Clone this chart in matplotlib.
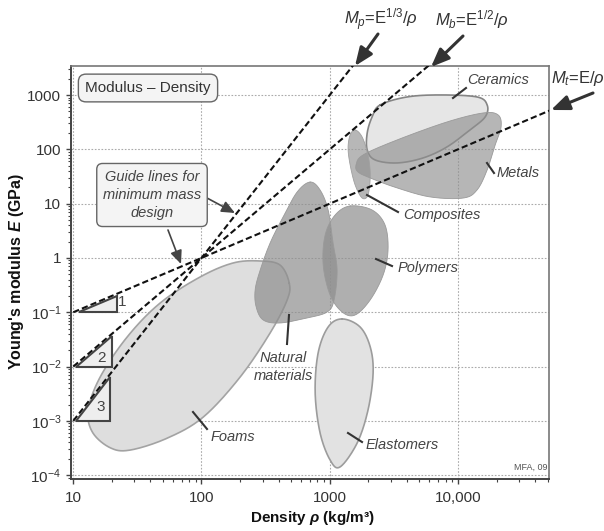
import numpy as np
import matplotlib
matplotlib.use("Agg")
import matplotlib.pyplot as plt
from matplotlib.lines import Line2D
from matplotlib.patches import Polygon
from matplotlib.ticker import LogLocator, FixedLocator, FixedFormatter, NullFormatter

plt.rcParams['font.family'] = ['Liberation Sans', 'DejaVu Sans']
plt.rcParams['mathtext.fontset'] = 'custom'
plt.rcParams['mathtext.rm'] = 'Liberation Sans'
plt.rcParams['mathtext.it'] = 'Liberation Sans:italic'
plt.rcParams['mathtext.bf'] = 'Liberation Sans:bold:italic'

# ---------------- data ----------------
x_ticks = [10, 100, 1000, 10000]
x_ticklabels = ["10", "100", "1000", "10,000"]
y_ticks = [1e-4, 1e-3, 1e-2, 1e-1, 1, 10, 100, 1000]
y_ticklabels = [r"$10^{-4}$", r"$10^{-3}$", r"$10^{-2}$", r"$10^{-1}$", "1", "10", "100", "1000"]

# guide lines E = E_ref * (rho/rho_ref)^n, through (100 kg/m3, 1 GPa)
guide_names = ["M_t", "M_b", "M_p"]
guide_slopes = [1, 2, 3]
guide_rho_ref = 100.0
guide_E_ref = 1.0
guide_rho_start = 10.0

# slope triangles: start rho, end rho, base E, slope, label
tri_rho0 = [11.0, 10.5, 10.5]
tri_rho1 = [22.0, 20.0, 19.5]
tri_E0 = [0.1, 0.01, 0.001]
tri_slope = [1, 2, 3]
tri_label = ["1", "2", "3"]

# material family envelopes (boundary points, rho in kg/m3, E in GPa)
foams_rho = [483, 466, 343, 200, 103, 54, 27.8, 19.4, 14.1, 13.1, 16.2, 26.3, 47.6, 97.6, 177, 287, 410]
foams_E = [0.347, 0.169, 0.0416, 0.0064, 0.00117, 4.8e-4, 2.9e-4, 3.2e-4, 6.2e-4, 1.6e-3, 6.4e-3, 0.035, 0.148, 0.447, 0.81, 0.88, 0.74]

natural_rho = [703, 841, 972, 1062, 1142, 1082, 954, 667, 410, 303, 267, 262, 287, 343, 433, 557]
natural_E = [25, 17.9, 7.65, 1.89, 0.60, 0.169, 0.101, 0.0785, 0.0635, 0.072, 0.125, 0.257, 0.60, 1.89, 5.7, 16.4]

polymers_rho = [1443, 2140, 2700, 2850, 2610, 2070, 1578, 1250, 1007, 889, 921, 1102]
polymers_E = [9.07, 7.65, 4.05, 1.40, 0.486, 0.169, 0.089, 0.101, 0.208, 0.743, 2.65, 6.19]

elastomers_rho = [1250, 1725, 2070, 2180, 1990, 1636, 1205, 1007, 841, 770, 812, 972]
elastomers_E = [0.0753, 0.0536, 0.023, 0.0076, 0.00159, 3.9e-4, 1.42e-4, 1.9e-4, 6.0e-4, 3.3e-3, 0.0178, 0.0536]

ceramics_rho = [2470, 4010, 7260, 14100, 16900, 16300, 12400, 8220, 5350, 3350, 2260, 1960, 1960, 2140]
ceramics_E = [657, 923, 1005, 923, 657, 395, 228, 111, 69.5, 56.2, 63.8, 97.5, 200, 395]

metals_rho = [1607, 1820, 3350, 8220, 15700, 20600, 21700, 19500, 16900, 14100, 11000, 6070, 3350, 2070, 1660]
metals_E = [51.6, 78.9, 149, 320, 468, 430, 259, 120, 41.8, 17.9, 12.7, 13.3, 19.5, 29.7, 38.4]

composites_rho = [1578, 1790, 1990, 2070, 1990, 1790, 1578, 1443, 1390, 1443]
composites_E = [228, 169, 78.9, 33.8, 14.5, 12.7, 22.1, 51.6, 106, 184]

families = ["Foams", "Natural materials", "Polymers", "Elastomers", "Ceramics", "Metals", "Composites"]

# ---------------- figure ----------------
W, H = 604, 531
fig = plt.figure(figsize=(W / 100, H / 100), dpi=100)
ax = fig.add_axes([71 / W, 1 - 479 / H, (549 - 71) / W, (479 - 66) / H])
ax.set_xscale('log')
ax.set_yscale('log')
ax.set_xlim(9.6, 51300)
ax.set_ylim(8.5e-5, 3430)


def P(x, y):
    """pixel position (from top-left) to figure fraction"""
    return (x / W, 1 - y / H)


def smooth_closed(xs, ys, n=24):
    pts = np.column_stack([np.log10(xs), np.log10(ys)])
    N = len(pts)
    t = np.linspace(0, 1, n, endpoint=False)[:, None]
    out = []
    for i in range(N):
        p0, p1, p2, p3 = pts[(i - 1) % N], pts[i], pts[(i + 1) % N], pts[(i + 2) % N]
        seg = 0.5 * ((2 * p1) + (-p0 + p2) * t + (2 * p0 - 5 * p1 + 4 * p2 - p3) * t ** 2
                     + (-p0 + 3 * p1 - 3 * p2 + p3) * t ** 3)
        out.append(seg)
    o = np.vstack(out)
    return 10 ** o[:, 0], 10 ** o[:, 1]


def blob(rho, E, face, edge, alpha=1.0, z=2, lw=1.2):
    x, y = smooth_closed(rho, E)
    ax.fill(x, y, facecolor=face, edgecolor='none', alpha=alpha, zorder=z)
    ax.plot(np.append(x, x[0]), np.append(y, y[0]), color=edge, lw=lw, zorder=z + 0.1)


# grid
ax.grid(True, which='major', ls=(0, (1.5, 1.5)), color='#aaaaaa', lw=0.8)
ax.set_axisbelow(True)

blob(foams_rho, foams_E, '#dedede', '#a3a3a3', 1.0, 2)
blob(elastomers_rho, elastomers_E, '#e2e2e2', '#9c9c9c', 1.0, 2)
blob(natural_rho, natural_E, '#8e8e8e', '#9a9a9a', 0.7, 3, lw=0.6)
blob(polymers_rho, polymers_E, '#8e8e8e', '#9a9a9a', 0.7, 3, lw=0.6)
blob(ceramics_rho, ceramics_E, '#e6e6e6', '#858585', 1.0, 2)
blob(composites_rho, composites_E, '#999999', '#a0a0a0', 0.7, 3, lw=0.6)
blob(metals_rho, metals_E, '#8f8f8f', '#9a9a9a', 0.65, 3, lw=0.6)

# guide lines
rho_line = np.logspace(np.log10(guide_rho_start), 5, 200)
for n in guide_slopes:
    ax.plot(rho_line, guide_E_ref * (rho_line / guide_rho_ref) ** n, color='#111111',
            lw=1.5, ls=(0, (3, 1.5)), zorder=6)

# slope triangles
for r0, r1, e0, n in zip(tri_rho0, tri_rho1, tri_E0, tri_slope):
    e1 = e0 * (r1 / r0) ** n
    tri = Polygon([[r0, e0], [r1, e0], [r1, e1]], closed=True, facecolor='#eeeeee',
                  edgecolor='#444444', lw=1.5, zorder=7)
    ax.add_patch(tri)
tri_text_pos = [(24.1, 0.155), (16.5, 0.0144), (16.3, 0.0018)]
for (tx, ty), lab in zip(tri_text_pos, tri_label):
    ax.text(tx, ty, lab, fontsize=11, color='#444444', ha='center', va='center', zorder=8)

# axes styling
for s in ['left', 'bottom']:
    ax.spines[s].set_color('#444444')
    ax.spines[s].set_linewidth(1.4)
for s in ['top', 'right']:
    ax.spines[s].set_color('#777777')
    ax.spines[s].set_linewidth(1.2)
ax.xaxis.set_major_locator(FixedLocator(x_ticks))
ax.xaxis.set_major_formatter(FixedFormatter(x_ticklabels))
ax.yaxis.set_major_locator(FixedLocator(y_ticks))
ax.yaxis.set_major_formatter(FixedFormatter(y_ticklabels))
ax.xaxis.set_minor_locator(LogLocator(base=10, subs=np.arange(2, 10), numticks=20))
ax.yaxis.set_minor_locator(LogLocator(base=10, subs=np.arange(2, 10), numticks=20))
ax.xaxis.set_minor_formatter(NullFormatter())
ax.yaxis.set_minor_formatter(NullFormatter())
ax.tick_params(which='major', direction='out', length=3.5, width=1.0, color='#444444',
               labelsize=11, labelcolor='#333333')
ax.tick_params(which='minor', direction='out', length=2.2, width=0.8, color='#444444')
ax.tick_params(axis='x', which='major', pad=5.5)
ax.tick_params(axis='y', which='major', pad=3.5)

fig.text(*P(312, 518), "Density $\\mathbf{\\rho}$ (kg/m³)", fontsize=11, fontweight='bold',
         ha='center', va='center', color='#111111')
fig.text(*P(17, 272), "Young's modulus $\\mathbf{E}$ (GPa)", fontsize=11.5, fontweight='bold',
         ha='center', va='center', rotation=90, color='#111111')

# title box
fig.text(*P(148, 88), "Modulus – Density", fontsize=11, color='#333333', ha='center', va='center',
         bbox=dict(boxstyle='round,pad=0.45,rounding_size=0.5', fc='#f4f4f4', ec='#666666', lw=1.0),
         zorder=10)

# guide box
fig.text(*P(152, 195), "Guide lines for\nminimum mass\ndesign", fontsize=10.5, style='italic',
         color='#444444', ha='center', va='center', linespacing=1.4,
         bbox=dict(boxstyle='round,pad=0.42,rounding_size=0.4', fc='#f4f4f4', ec='#666666', lw=1.0),
         zorder=10)
arrow_small = dict(arrowstyle='-|>,head_length=0.8,head_width=0.35', color='#444444', lw=1.2,
                   shrinkA=0, shrinkB=0)
fig.add_artist(plt.Annotation("", xy=P(235, 213), xytext=P(207, 198), xycoords='figure fraction',
                              textcoords='figure fraction', arrowprops=arrow_small))
fig.add_artist(plt.Annotation("", xy=P(181, 264), xytext=P(168, 230), xycoords='figure fraction',
                              textcoords='figure fraction', arrowprops=arrow_small))

# top index labels and arrows
arrow_big = dict(arrowstyle='-|>,head_length=1.1,head_width=0.45', color='#333333', lw=2.2,
                 shrinkA=0, shrinkB=0)
fig.text(*P(381, 20), r"$M_p$=E$^{1/3}$/$\rho$", fontsize=12, color='#333333', ha='center', va='center')
fig.text(*P(472, 20), r"$M_b$=E$^{1/2}$/$\rho$", fontsize=12, color='#333333', ha='center', va='center')
fig.text(*P(578, 78), r"$M_t$=E/$\rho$", fontsize=12, color='#333333', ha='center', va='center')
fig.add_artist(plt.Annotation("", xy=P(355, 66), xytext=P(378, 34), xycoords='figure fraction',
                              textcoords='figure fraction', arrowprops=arrow_big))
fig.add_artist(plt.Annotation("", xy=P(431, 67), xytext=P(463, 36), xycoords='figure fraction',
                              textcoords='figure fraction', arrowprops=arrow_big))
fig.add_artist(plt.Annotation("", xy=P(551, 110), xytext=P(593, 93), xycoords='figure fraction',
                              textcoords='figure fraction', arrowprops=arrow_big))

# family labels with leader lines
labels = [
    ("Ceramics", (498, 80), ((453, 98), (466, 88)), 'center'),
    ("Metals", (497, 173), ((487, 163), (494, 173)), 'left'),
    ("Composites", (403, 215), ((367, 195), (398, 212)), 'left'),
    ("Polymers", (398, 268), ((376, 259), (392, 266)), 'left'),
    ("Natural\nmaterials", (283, 367), ((289, 315), (287, 344)), 'center'),
    ("Foams", (211, 437), ((193, 412), (207, 429)), 'left'),
    ("Elastomers", (366, 445), ((348, 433), (362, 442)), 'left'),
]
for text, (tx, ty), ((x0, y0), (x1, y1)), ha in labels:
    fig.text(*P(tx, ty), text, fontsize=10.5, style='italic', color='#444444', ha=ha, va='center',
             linespacing=1.3, zorder=10)
    fig.add_artist(Line2D([x0 / W, x1 / W], [1 - y0 / H, 1 - y1 / H], color='#333333', lw=1.5))

fig.text(*P(531, 467), "MFA, 09", fontsize=6.5, color='#555555', ha='center', va='center')

fig.savefig("out.png", dpi=100)
